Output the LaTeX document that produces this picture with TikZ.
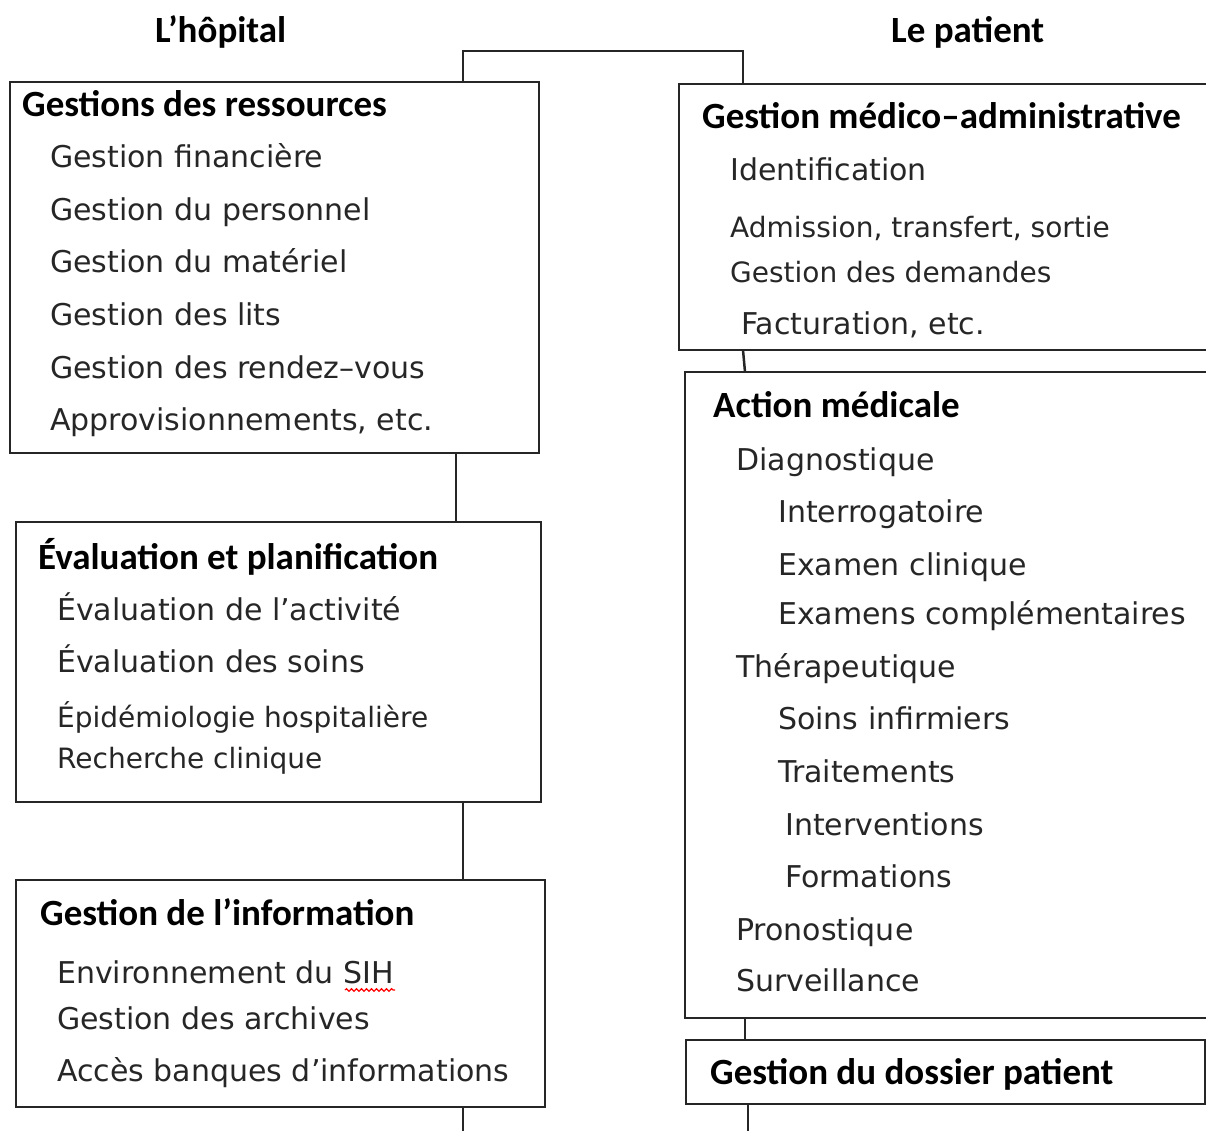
\documentclass[tikz,border=0pt]{standalone}
\usepackage{fontspec}
\setmainfont{DejaVu Sans}
\newfontfamily\carlito{Carlito}
\usetikzlibrary{decorations.pathmorphing}

\tikzset{
    kasten/.style={draw=black!85, line width=2.5pt, inner sep=0pt, outer sep=0pt, anchor=north west},
    titel/.style={font=\carlito\bfseries\fontsize{37}{40}\selectfont, anchor=base west, inner sep=0pt},
    eintrag/.style={font=\fontsize{30}{34}\selectfont, text=black!85, anchor=base west, inner sep=0pt},
    eintragk/.style={font=\fontsize{28}{32}\selectfont, text=black!85, anchor=base west, inner sep=0pt},
    linie/.style={draw=black!85, line width=2.5pt}
}

\begin{document}
\begin{tikzpicture}[x=1pt, y=-1pt]
        % Rahmen
        \useasboundingbox (0,0) rectangle (1206,1131);
        \clip (0,0) rectangle (1206,1131);

        % Ueberschriften
        \node[titel] (hopital) at (155,43) {L’hôpital};
        \node[titel] (patient) at (891,43) {Le patient};

        % Kaesten links
        \node[kasten, minimum width=529pt, minimum height=371pt] (ress) at (10,82) {};
        \node[kasten, minimum width=525pt, minimum height=280pt] (eval) at (16,522) {};
        \node[kasten, minimum width=529pt, minimum height=227pt] (info) at (16,880) {};

        % Kaesten rechts (rechter Rand abgeschnitten)
        \node[kasten, minimum width=540pt, minimum height=266pt] (admin) at (679,84) {};
        \node[kasten, minimum width=540pt, minimum height=646pt] (act) at (685,372) {};
        \node[kasten, minimum width=519pt, minimum height=64pt] (dossier) at (686,1040) {};

        % Verbindungen
        \coordinate (oben-l) at (463,51);
        \coordinate (oben-r) at (743,51);
        \coordinate (unten-l) at (463,1135);
        \coordinate (unten-r) at (748,1135);
        \draw[linie] (463,0 |- ress.north) -- (oben-l) -- (oben-r) -- (743,0 |- admin.north);
        \draw[linie] (456,0 |- ress.south) -- (456,0 |- eval.north);
        \draw[linie] (463,0 |- eval.south) -- (463,0 |- info.north);
        \draw[linie] (463,0 |- info.south) -- (unten-l);
        \draw[linie] (743,0 |- admin.south) -- (745,0 |- act.north); % leicht schraeg
        \draw[linie] (745,0 |- act.south) -- (745,0 |- dossier.north);
        \draw[linie] (748,0 |- dossier.south) -- (unten-r);

        % Gestions des ressources
        \node[titel] (ress-t) at (22,117) {Gestions des ressources};
        \node[eintrag] (ress-1) at (50,168) {Gestion financière};
        \node[eintrag] (ress-2) at (50,221) {Gestion du personnel};
        \node[eintrag] (ress-3) at (50,273) {Gestion du matériel};
        \node[eintrag] (ress-4) at (50,325) {Gestion des lits};
        \node[eintrag] (ress-5) at (50,378) {Gestion des rendez–vous};
        \node[eintrag] (ress-6) at (50,430) {Approvisionnements, etc.};

        % Evaluation et planification
        \node[titel] (eval-t) at (38,569) {Évaluation et planification};
        \node[eintrag] (eval-1) at (57,620) {Évaluation de l’activité};
        \node[eintrag] (eval-2) at (57,672) {Évaluation des soins};
        \node[eintragk] (eval-3) at (57,727) {Épidémiologie hospitalière};
        \node[eintragk] (eval-4) at (57,768) {Recherche clinique};

        % Gestion de l'information
        \node[titel] (info-t) at (40,925) {Gestion de l’information};
        \node[eintrag] (info-1) at (57,983) {Environnement du SIH};
        \node[eintrag] (info-2) at (57,1029) {Gestion des archives};
        \node[eintrag] (info-3) at (57,1081) {Accès banques d’informations};
        \draw[red, line width=1.2pt, decorate, decoration={snake, amplitude=1.3pt, segment length=5pt}]
            (345,990) -- (395,990); % Rechtschreibmarke

        % Gestion medico-administrative
        \node[titel] (admin-t) at (702,129) {Gestion médico–administrative};
        \node[eintrag] (admin-1) at (730,181) {Identification};
        \node[eintragk] (admin-2) at (730,238) {Admission, transfert, sortie};
        \node[eintragk] (admin-3) at (730,283) {Gestion des demandes};
        \node[eintrag] (admin-4) at (741,334) {Facturation, etc.};

        % Action medicale
        \node[titel] (act-t) at (713,417) {Action médicale};
        \node[eintrag] (act-1) at (736,470) {Diagnostique};
        \node[eintrag] (act-2) at (778,522) {Interrogatoire};
        \node[eintrag] (act-3) at (778,575) {Examen clinique};
        \node[eintrag] (act-4) at (778,624) {Examens complémentaires};
        \node[eintrag] (act-5) at (736,677) {Thérapeutique};
        \node[eintrag] (act-6) at (778,729) {Soins infirmiers};
        \node[eintrag] (act-7) at (778,782) {Traitements};
        \node[eintrag] (act-8) at (785,835) {Interventions};
        \node[eintrag] (act-9) at (785,887) {Formations};
        \node[eintrag] (act-10) at (736,940) {Pronostique};
        \node[eintrag] (act-11) at (736,991) {Surveillance};

        % Gestion du dossier patient
        \node[titel] (dossier-t) at (710,1084) {Gestion du dossier patient};

    \end{tikzpicture}
\end{document}
